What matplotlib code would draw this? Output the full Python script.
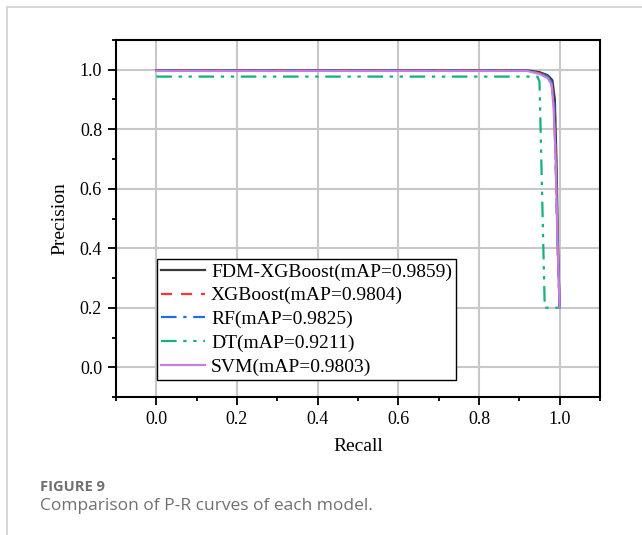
import numpy as np
import matplotlib
matplotlib.use("Agg")
import matplotlib.pyplot as plt
from matplotlib.lines import Line2D
from matplotlib.ticker import MultipleLocator

# precision-recall points
fdm_recall = [0.0, 0.92, 0.95, 0.97, 0.982, 0.988, 0.992, 0.996, 1.0]
fdm_precision = [0.998, 0.998, 0.992, 0.982, 0.965, 0.90, 0.70, 0.40, 0.20]

xgb_recall = [0.0, 0.92, 0.95, 0.97, 0.98, 0.986, 0.99, 0.995, 1.0]
xgb_precision = [0.997, 0.997, 0.988, 0.975, 0.955, 0.88, 0.70, 0.40, 0.20]

rf_recall = [0.0, 0.92, 0.95, 0.97, 0.98, 0.986, 0.99, 0.995, 1.0]
rf_precision = [0.997, 0.997, 0.99, 0.978, 0.958, 0.89, 0.70, 0.40, 0.20]

dt_recall = [0.0, 0.945, 0.95, 0.963, 1.0]
dt_precision = [0.977, 0.977, 0.96, 0.20, 0.20]

svm_recall = [0.0, 0.92, 0.95, 0.97, 0.98, 0.985, 0.99, 0.995, 1.0]
svm_precision = [0.996, 0.996, 0.986, 0.972, 0.95, 0.87, 0.70, 0.40, 0.20]

labels = ["FDM-XGBoost(mAP=0.9859)", "XGBoost(mAP=0.9804)", "RF(mAP=0.9825)",
          "DT(mAP=0.9211)", "SVM(mAP=0.9803)"]

plt.rcParams["font.family"] = ["Liberation Serif", "DejaVu Serif"]

fig = plt.figure(figsize=(6.42, 5.35), dpi=100)
ax = fig.add_axes([116 / 642, 1 - 397 / 535, 484 / 642, 357 / 535])

ax.plot(fdm_recall, fdm_precision, color="#3a3a3a", lw=1.6, label=labels[0])
ax.plot(xgb_recall, xgb_precision, color="#ff3333", lw=1.6, ls=(0, (5, 4)), label=labels[1])
ax.plot(rf_recall, rf_precision, color="#1f6fdc", lw=1.6, ls=(0, (7, 3, 1.5, 3)), label=labels[2])
ax.plot(dt_recall, dt_precision, color="#13b27a", lw=1.6,
        ls=(0, (7, 3, 1.5, 3, 1.5, 3)), label=labels[3])
ax.plot(svm_recall, svm_precision, color="#c47fe0", lw=1.6, label=labels[4])

ax.set_xlim(-0.1, 1.1)
ax.set_ylim(-0.1, 1.1)
ax.xaxis.set_minor_locator(MultipleLocator(0.1))
ax.yaxis.set_minor_locator(MultipleLocator(0.1))
ax.set_xticks(np.arange(0, 1.01, 0.2))
ax.set_yticks(np.arange(0, 1.01, 0.2))
ax.xaxis.set_major_formatter(lambda v, p: "%.1f" % v)
ax.yaxis.set_major_formatter(lambda v, p: "%.1f" % v)
ax.tick_params(which="major", direction="out", length=6, width=1.3, labelsize=13, pad=4)
ax.tick_params(which="minor", direction="out", length=3, width=1.3)
ax.grid(True, which="major", color="#c8c8c8", lw=1.5)
ax.set_axisbelow(True)
for s in ax.spines.values():
    s.set_linewidth(1.5)
    s.set_color("black")

ax.set_xlabel("Recall", fontsize=14, labelpad=7)
ax.set_ylabel("Precision", fontsize=14, labelpad=8)

leg = ax.legend(loc="lower left", bbox_to_anchor=(0.085, 0.048), borderaxespad=0,
                fontsize=14, frameon=True, fancybox=False, framealpha=1,
                edgecolor="black", handlelength=2.25, handletextpad=0.3,
                labelspacing=0.31, borderpad=0.22)
leg.get_frame().set_linewidth(1.0)

# page frame and caption
fig.add_artist(Line2D([7 / 642, 1], [1 - 7 / 535, 1 - 7 / 535], color="#d0d0d0", lw=1.2))
fig.add_artist(Line2D([7 / 642, 7 / 642], [0, 1 - 7 / 535], color="#d0d0d0", lw=1.2))
fig.text(40 / 642, 1 - 487 / 535, "FIGURE 9", family="Open Sans", weight="bold",
         fontsize=10.5, color="#707070", va="center")
fig.text(40 / 642, 1 - 506 / 535, "Comparison of P-R curves of each model.",
         family="Open Sans", fontsize=12.5, color="#707070", va="center")

fig.savefig("out.png", dpi=100)
